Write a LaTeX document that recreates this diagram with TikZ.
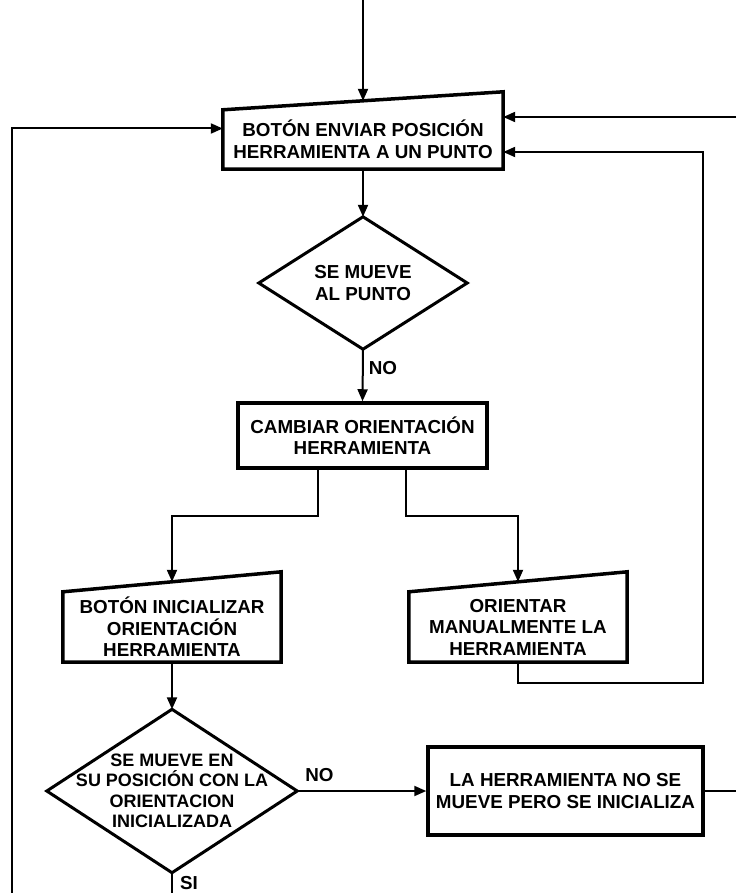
\documentclass[tikz,border=0pt]{standalone}
\usepackage{fontspec}
\setmainfont{Liberation Sans}
\usetikzlibrary{arrows.meta,calc}
\begin{document}
\begin{tikzpicture}[x=1pt,y=-1pt,
  lbl/.style={font=\bfseries\fontsize{18.8}{21.5}\selectfont, align=center, inner sep=0pt},
  tag/.style={font=\bfseries\fontsize{18.8}{21.5}\selectfont, inner sep=0pt},
  frame/.style={line width=3.5pt, line join=miter},
  decframe/.style={line width=3pt, line join=miter},
  link/.style={line width=2pt},
  arr/.style={link, -{Triangle[length=12pt,width=10pt]}},
  procbox/.style={lbl, draw, frame, minimum width=#1},
  area/.style={lbl, minimum width=#1}
]
\useasboundingbox (0,0) rectangle (736,893);

% ---- nodes ----
\node[area=280pt, minimum height=59pt] (enviar) at (363,139.5)
  {BOTÓN ENVIAR POSICIÓN\\HERRAMIENTA A UN PUNTO};
\node[area=208pt, minimum height=132pt] (mueve) at (363,283)
  {SE MUEVE\\AL PUNTO};
\node[procbox=249pt, minimum height=65pt] (cambiar) at (362.5,435.5)
  {CAMBIAR ORIENTACIÓN\\HERRAMIENTA};
\node[area=218pt, minimum height=70pt] (inicial) at (172,627)
  {BOTÓN INICIALIZAR\\ORIENTACIÓN\\HERRAMIENTA};
\node[area=218pt, minimum height=70pt] (manual) at (518,627)
  {ORIENTAR\\MANUALMENTE LA\\HERRAMIENTA};
\node[area=250pt, minimum height=163pt, font=\bfseries\fontsize{18}{20.5}\selectfont] (posic) at (172,791)
  {SE MUEVE EN\\SU POSICIÓN CON LA\\ORIENTACION\\INICIALIZADA};
\node[procbox=275pt, minimum height=88pt] (noinit) at (565.5,791)
  {LA HERRAMIENTA NO SE\\MUEVE PERO SE INICIALIZA};

% ---- manual input outlines (slanted top edge) ----
\draw[frame] (enviar.south west) -- (enviar.south east)
  -- ([yshift=18pt]enviar.north east) -- (enviar.north west) -- cycle;
\draw[frame] (inicial.south west) -- (inicial.south east)
  -- ([yshift=20pt]inicial.north east) -- (inicial.north west) -- cycle;
\draw[frame] (manual.south west) -- (manual.south east)
  -- ([yshift=20pt]manual.north east) -- (manual.north west) -- cycle;
\coordinate (enviartop) at ([yshift=9pt]enviar.north);
\coordinate (inicialtop) at ([yshift=10pt]inicial.north);
\coordinate (manualtop) at ([yshift=10pt]manual.north);

% ---- decision outlines ----
\draw[decframe] (mueve.north) -- (mueve.east) -- (mueve.south) -- (mueve.west) -- cycle;
\draw[decframe] (posic.north) -- (posic.east) -- (posic.south) -- (posic.west) -- cycle;

% ---- free ends at the picture border ----
\coordinate (start) at (363,0);
\coordinate (leftend) at (12,893);
\coordinate (rightin) at (736,117);
\coordinate (rightout) at (736,791);
\coordinate (siend) at (172,893);
\coordinate (loopcorner) at (703,683);

% ---- connectors ----
\draw[arr] (start) -- (enviartop);
\draw[arr] (leftend) |- ([yshift=11pt]enviar.west);
\draw[arr] (rightin) -- (rightin -| enviar.east);
\draw[arr] (enviar.south) -- (mueve.north);
\draw[arr] (mueve.south) -- node[tag, pos=0.37, anchor=west, xshift=5pt] {NO} (cambiar.north);
\draw[arr] ([xshift=-44.5pt]cambiar.south) -- ++(0,46) -| (inicialtop);
\draw[arr] ([xshift=43.5pt]cambiar.south) -- ++(0,46) -| (manualtop);
\draw[arr] (manual.south) |- (loopcorner) |- ([yshift=-12.5pt]enviar.east);
\draw[arr] (inicial.south) -- (posic.north);
\draw[arr] (posic.east) -- (noinit.west);
\node[tag, anchor=south west, xshift=8pt, yshift=9pt] (nolbl) at (posic.east) {NO};
\draw[link] (noinit.east) -- (rightout);
\draw[link] (posic.south) -- (siend);
\node[tag, anchor=west, xshift=8pt] (silbl) at ($(posic.south)!0.5!(siend)$) {SI};
\end{tikzpicture}
\end{document}
